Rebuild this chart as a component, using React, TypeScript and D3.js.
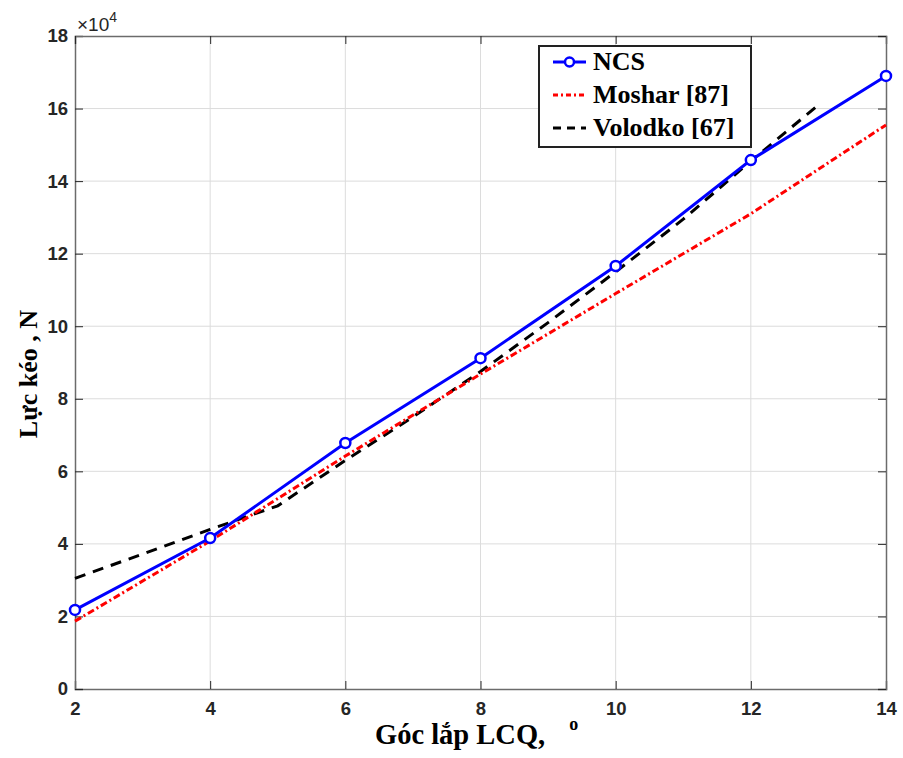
import React from 'react';
import * as d3 from 'd3';

// data (values in units of 1e4 N)
const ncsX = [2, 4, 6, 8, 10, 12, 14];
const ncsY = [2.18, 4.16, 6.78, 9.12, 11.66, 14.58, 16.9];
const mosharX = [2, 4, 6, 8, 10, 12, 14];
const mosharY = [1.87, 4.08, 6.42, 8.68, 10.9, 13.1, 15.55];
const volodkoX = [2, 3, 4, 5, 6, 7, 8, 9, 10, 11, 12, 13];
const volodkoY = [3.05, 3.72, 4.4, 5.05, 6.3, 7.5, 8.75, 10.1, 11.5, 12.95, 14.55, 16.1];
const xTicks = [2, 4, 6, 8, 10, 12, 14];
const yTicks = [0, 2, 4, 6, 8, 10, 12, 14, 16, 18];
const legendItems = ['NCS', 'Moshar [87]', 'Volodko [67]'];

const W = 903;
const H = 758;
const margin = { left: 75, right: 17, top: 36, bottom: 69 };

const App = () => {
  const ref = React.useRef<SVGSVGElement>(null);

  React.useEffect(() => {
    const svg = d3.select(ref.current);
    svg.selectAll('*').remove();

    const x = d3.scaleLinear().domain([2, 14]).range([margin.left, W - margin.right]);
    const y = d3.scaleLinear().domain([0, 18]).range([H - margin.bottom, margin.top]);
    const axisColor = '#262626';
    const tickFont = '"Liberation Sans", Arial, sans-serif';
    const serif = '"Liberation Serif", "Times New Roman", serif';

    svg.append('rect').attr('width', W).attr('height', H).attr('fill', '#fff');

    // grid
    const grid = svg.append('g').attr('stroke', '#dcdcdc').attr('stroke-width', 1);
    xTicks.slice(1, -1).forEach(t => {
      grid.append('line').attr('x1', x(t)).attr('x2', x(t)).attr('y1', y(0)).attr('y2', y(18));
    });
    yTicks.slice(1, -1).forEach(t => {
      grid.append('line').attr('x1', x(2)).attr('x2', x(14)).attr('y1', y(t)).attr('y2', y(t));
    });

    // axes (MATLAB style, ticks inside, box)
    const bottom = svg.append('g')
      .attr('transform', `translate(0,${y(0)})`)
      .call(d3.axisBottom(x).tickValues(xTicks).tickSize(-8).tickPadding(13).tickFormat(d3.format('d')));
    const left = svg.append('g')
      .attr('transform', `translate(${x(2)},0)`)
      .call(d3.axisLeft(y).tickValues(yTicks).tickSize(-8).tickPadding(7).tickFormat(d3.format('d')));
    svg.append('g')
      .attr('transform', `translate(0,${y(18)})`)
      .call(d3.axisTop(x).tickValues(xTicks).tickSize(-8).tickFormat(() => ''));
    svg.append('g')
      .attr('transform', `translate(${x(14)},0)`)
      .call(d3.axisRight(y).tickValues(yTicks).tickSize(-8).tickFormat(() => ''));

    svg.selectAll('.domain').attr('stroke', '#6b6b6b').attr('stroke-width', 1.5);
    svg.selectAll('.tick line').attr('stroke', axisColor);
    [bottom, left].forEach(g => g.selectAll('text')
      .attr('fill', axisColor)
      .style('font-family', tickFont)
      .style('font-weight', 'bold')
      .style('font-size', '18.5px'));

    // exponent
    const exp = svg.append('text')
      .attr('x', x(2) + 2).attr('y', 31)
      .attr('fill', axisColor)
      .style('font-family', tickFont)
      .style('font-size', '19px');
    exp.append('tspan').text('×10');
    exp.append('tspan').attr('dy', -9).style('font-size', '14px').text('4');

    // series
    const line = d3.line<[number, number]>().x(d => x(d[0])).y(d => y(d[1]));
    const zip = (a: number[], b: number[]) => a.map((v, i) => [v, b[i]] as [number, number]);

    svg.append('path').datum(zip(volodkoX, volodkoY))
      .attr('d', line).attr('fill', 'none')
      .attr('stroke', '#000').attr('stroke-width', 3).attr('stroke-dasharray', '11,8');
    svg.append('path').datum(zip(mosharX, mosharY))
      .attr('d', line).attr('fill', 'none')
      .attr('stroke', '#ff0000').attr('stroke-width', 3).attr('stroke-dasharray', '7,3,2,3');
    svg.append('path').datum(zip(ncsX, ncsY))
      .attr('d', line).attr('fill', 'none')
      .attr('stroke', '#0000ff').attr('stroke-width', 3);
    svg.selectAll('circle.ncs').data(zip(ncsX, ncsY)).enter()
      .append('circle')
      .attr('cx', d => x(d[0])).attr('cy', d => y(d[1])).attr('r', 5)
      .attr('fill', '#fff').attr('stroke', '#0000ff').attr('stroke-width', 2.5);

    // axis labels
    const xl = svg.append('text')
      .attr('x', 375).attr('y', 744)
      .style('font-family', serif).style('font-weight', 'bold').style('font-size', '28.5px');
    xl.append('tspan').text('Góc lắp LCQ,');
    xl.append('tspan').attr('dx', 24).attr('dy', -14).style('font-size', '18px').text('o');

    svg.append('text')
      .attr('transform', `translate(37,374) rotate(-90)`)
      .attr('text-anchor', 'middle')
      .style('font-family', serif).style('font-weight', 'bold').style('font-size', '26px')
      .text('Lực kéo , N');

    // legend
    const lg = svg.append('g').attr('transform', 'translate(539,46)');
    lg.append('rect').attr('width', 212).attr('height', 101)
      .attr('fill', '#fff').attr('stroke', '#222').attr('stroke-width', 2);
    const styles = [
      { stroke: '#0000ff', dash: null, w: 3 },
      { stroke: '#ff0000', dash: '5,3,2,3', w: 3 },
      { stroke: '#000', dash: '8,6', w: 3 },
    ];
    legendItems.forEach((name, i) => {
      const cy = 16 + i * 33;
      const s = styles[i];
      lg.append('line').attr('x1', 14).attr('x2', 47).attr('y1', cy).attr('y2', cy)
        .attr('stroke', s.stroke).attr('stroke-width', s.w)
        .attr('stroke-dasharray', s.dash);
      if (i === 0) {
        lg.append('circle').attr('cx', 30.5).attr('cy', cy).attr('r', 4.5)
          .attr('fill', '#fff').attr('stroke', '#0000ff').attr('stroke-width', 2.5);
      }
      lg.append('text').attr('x', 54).attr('y', cy + 8)
        .style('font-family', serif).style('font-weight', 'bold').style('font-size', '26px')
        .text(name);
    });
  }, []);

  return (
    <svg ref={ref} width={W} height={H} style={{ display: 'block', position: 'absolute', left: 0, top: 0 }} />
  );
};

export default App;
